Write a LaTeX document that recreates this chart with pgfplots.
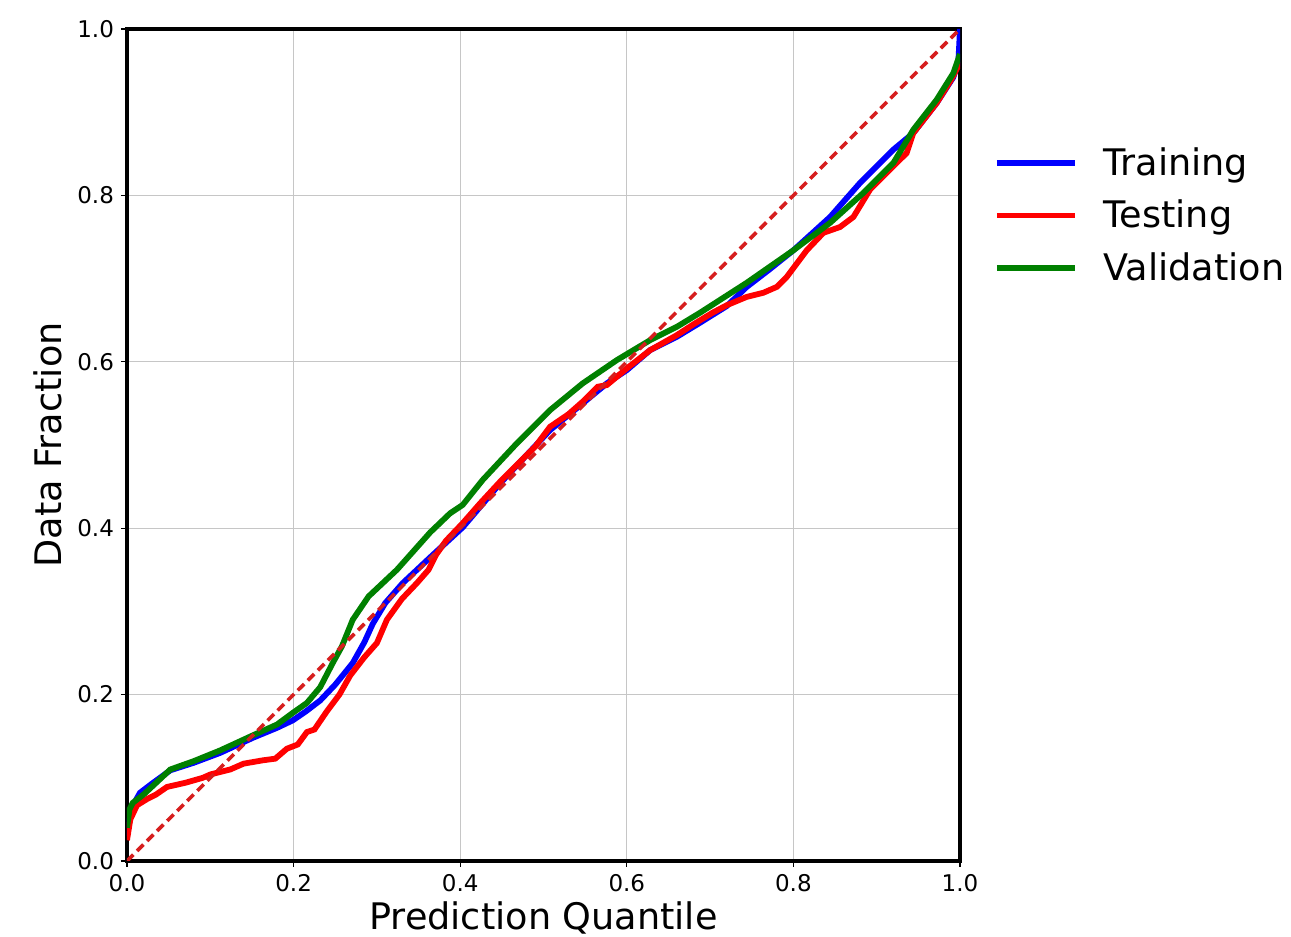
\documentclass[border=0pt]{standalone}
\usepackage{fontspec}
\setmainfont{DejaVu Sans}
\usepackage{pgfplots}
\pgfplotsset{compat=1.18}
\usetikzlibrary{calc}

\definecolor{mplblue}{RGB}{0,0,255}
\definecolor{mplred}{RGB}{255,0,0}
\definecolor{mplgreen}{RGB}{0,128,0}
\definecolor{diagred}{RGB}{214,30,30}

\begin{document}
\begin{tikzpicture}
\begin{axis}[
    name=ax,
    scale only axis,
    width=416.5pt, height=416pt,
    xmin=0, xmax=1, ymin=0, ymax=1,
    xtick={0,0.2,...,1.0}, ytick={0,0.2,...,1.0},
    tick pos=left, tick align=outside,
    major tick length=3pt,
    tick style={black, line width=0.6pt},
    axis line style={black, line width=2pt},
    grid=major,
    major grid style={gray!45, line width=0.6pt},
    /pgf/number format/assume math mode=true,
    /pgf/number format/.cd, fixed, fixed zerofill, precision=1,
    /pgfplots/.cd,
    ticklabel style={font=\fontsize{11.5}{13}\selectfont},
    xlabel={Prediction Quantile},
    ylabel={Data Fraction},
    label style={font=\fontsize{18.3}{21}\selectfont},
    xlabel style={yshift=2pt},
    ylabel style={yshift=1pt},
    legend style={at={(1.033,0.868)}, anchor=north west, draw=none,
        fill=none, font=\fontsize{18.3}{22}\selectfont,
        row sep=7pt, cells={anchor=west},
        /tikz/every odd column/.append style={column sep=11pt}},
    legend image code/.code={\draw[#1] (0pt,0pt) -- (39pt,0pt);},
]

% Training
\addplot[mplblue, line width=2.9pt] coordinates {
(0,0.03) (0.005,0.06) (0.01,0.072) (0.0156,0.082) (0.03,0.093) (0.052,0.109)
(0.08,0.118) (0.112,0.13) (0.151,0.148) (0.18,0.16) (0.199,0.169) (0.215,0.18)
(0.232,0.193) (0.25,0.212) (0.271,0.238) (0.285,0.263) (0.295,0.285) (0.31,0.31)
(0.331,0.334) (0.364,0.365) (0.403,0.401) (0.448,0.454) (0.508,0.518) (0.547,0.55)
(0.576,0.574) (0.60,0.59) (0.628,0.614) (0.66,0.63) (0.688,0.647) (0.72,0.667)
(0.744,0.69) (0.77,0.71) (0.80,0.734) (0.844,0.774) (0.88,0.815) (0.92,0.855)
(0.944,0.875) (0.972,0.911) (0.992,0.942) (0.998,0.96) (1.0,1.0)
};
\addlegendentry{Training}

% Testing
\addplot[mplred, line width=2.9pt] coordinates {
(0,0.025) (0.004,0.05) (0.012,0.067) (0.025,0.075) (0.035,0.08) (0.048,0.089)
(0.07,0.094) (0.091,0.1) (0.1,0.104) (0.124,0.11) (0.14,0.117) (0.163,0.121)
(0.178,0.123) (0.192,0.135) (0.205,0.14) (0.216,0.155) (0.225,0.158) (0.24,0.18)
(0.255,0.2) (0.268,0.223) (0.285,0.245) (0.30,0.262) (0.312,0.29) (0.33,0.315)
(0.348,0.334) (0.362,0.35) (0.371,0.368) (0.383,0.385) (0.403,0.406) (0.424,0.43)
(0.448,0.456) (0.47,0.478) (0.49,0.498) (0.508,0.522) (0.53,0.537) (0.547,0.552)
(0.565,0.57) (0.576,0.572) (0.60,0.592) (0.628,0.614) (0.66,0.632) (0.68,0.645)
(0.703,0.659) (0.72,0.668) (0.744,0.678) (0.764,0.683) (0.78,0.69) (0.792,0.702)
(0.816,0.734) (0.836,0.755) (0.856,0.762) (0.872,0.774) (0.892,0.807) (0.912,0.827)
(0.936,0.851) (0.944,0.875) (0.972,0.911) (0.99,0.94) (1.0,0.96)
};
\addlegendentry{Testing}

% Validation
\addplot[mplgreen, line width=2.9pt] coordinates {
(0,0.04) (0.003,0.062) (0.007,0.07) (0.02,0.08) (0.035,0.094) (0.052,0.11)
(0.08,0.12) (0.112,0.133) (0.151,0.151) (0.18,0.164) (0.199,0.178) (0.216,0.19)
(0.232,0.209) (0.247,0.238) (0.258,0.258) (0.271,0.29) (0.29,0.318) (0.324,0.35)
(0.364,0.395) (0.388,0.418) (0.403,0.428) (0.427,0.458) (0.468,0.502) (0.508,0.542)
(0.547,0.574) (0.588,0.602) (0.628,0.626) (0.66,0.642) (0.688,0.659) (0.744,0.695)
(0.80,0.734) (0.844,0.767) (0.884,0.803) (0.92,0.839) (0.944,0.879) (0.972,0.915)
(0.992,0.947) (1.0,0.97)
};
\addlegendentry{Validation}

% perfect calibration
\addplot[diagred, line width=1.8pt, dash pattern=on 4.5pt off 2.6pt, forget plot]
    coordinates {(0,0) (1,1)};

\end{axis}
\pgfresetboundingbox
\path ($(ax.south west)+(-63.5pt,-38pt)$) rectangle ($(ax.north east)+(165.5pt,14.5pt)$);
\end{tikzpicture}
\end{document}
